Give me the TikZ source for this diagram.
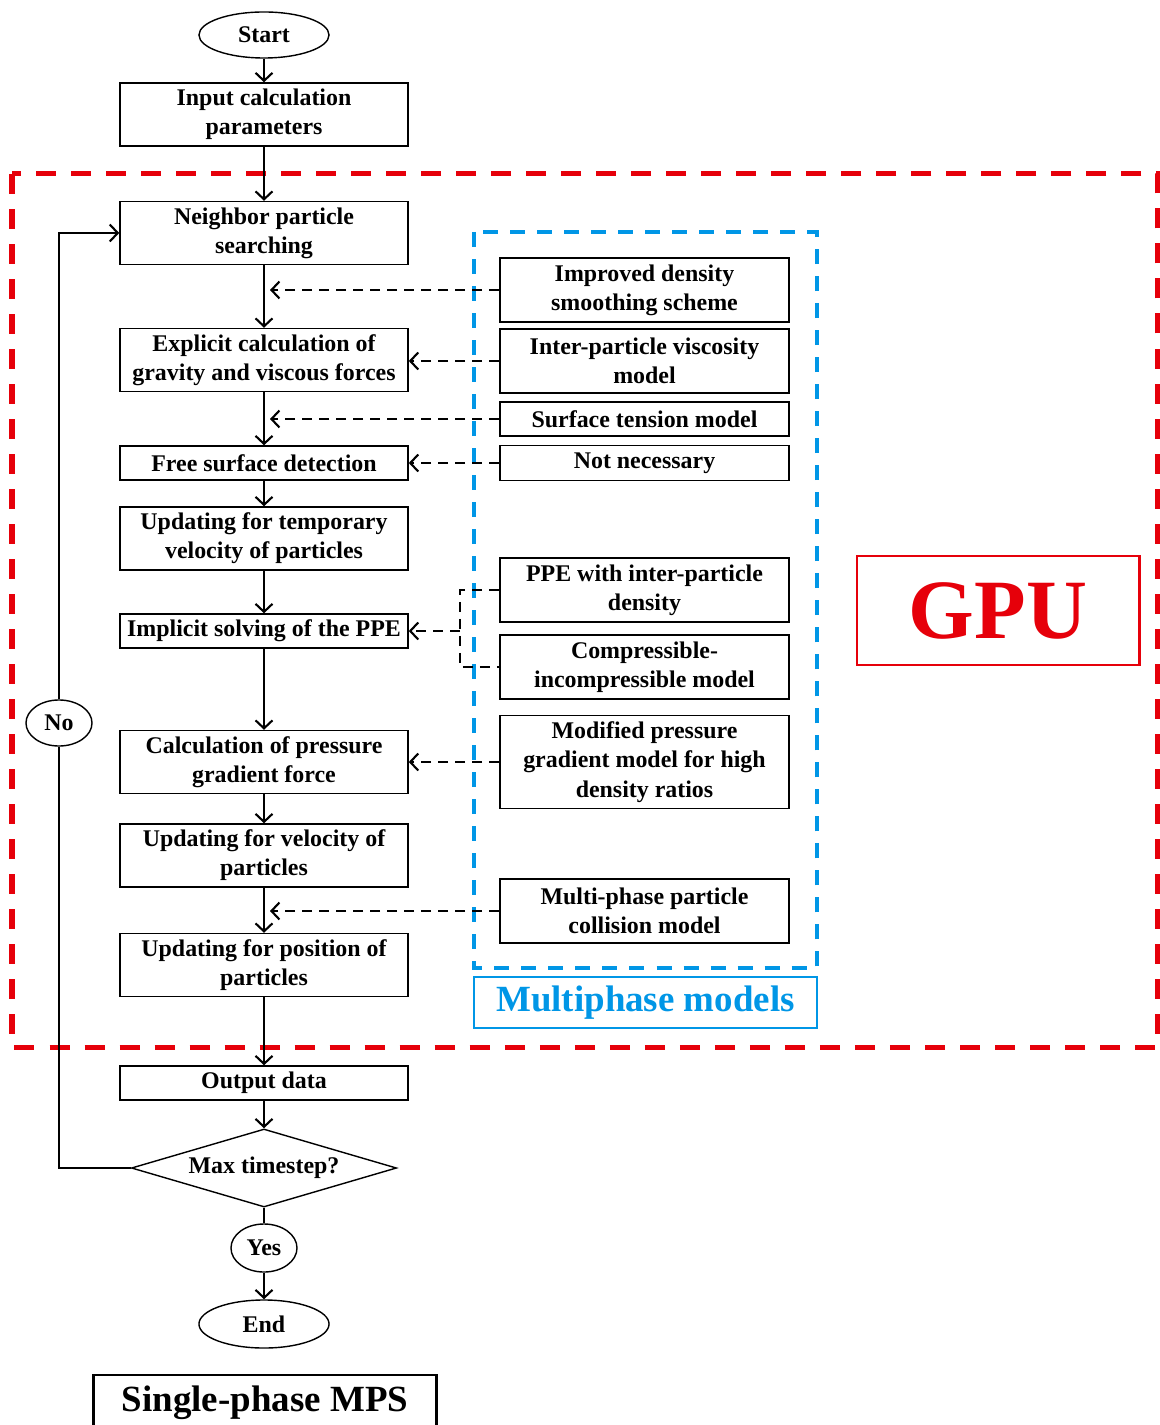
\documentclass[tikz,border=0pt]{standalone}
\usepackage{fontspec}
\setmainfont{Liberation Serif}
\usetikzlibrary{shapes.geometric,arrows.meta}
\definecolor{gpured}{RGB}{230,0,10}
\definecolor{mpblue}{RGB}{0,150,230}
\tikzset{
  txt/.style={font=\fontsize{6.8}{8.3}\selectfont\bfseries},
  box/.style={draw,txt,minimum width=2.88cm,minimum height=0.63cm,inner sep=0pt,align=center},
  lbox/.style={box,minimum height=0.34cm},
  model/.style={box,minimum width=2.89cm,minimum height=0.64cm},
  term/.style={draw,txt,ellipse,minimum width=1.3cm,minimum height=0.46cm,inner sep=0pt},
  flow/.style={->,line width=0.6pt},
  feed/.style={line width=0.6pt,dash pattern=on 0.1cm off 0.07cm},
  title/.style={font=\fontsize{10.5}{12}\selectfont\bfseries,inner sep=0pt},
}
\begin{document}
\begin{tikzpicture}[x=0.01cm,y=-0.01cm,>={Straight Barb[length=0.08cm,width=0.17cm]}]
\useasboundingbox (0,0) rectangle (1159,1425);
\draw[gpured,line width=0.05cm,dash pattern=on 0.2cm off 0.15cm] (12,174) rectangle (1157,1047);
\draw[mpblue,line width=0.04cm,dash pattern=on 0.15cm off 0.12cm] (474,232) rectangle (817,968);

\node[term] (S) at (264,35) {Start};
\node[box] (In) at (264,114.5) {Input calculation\\parameters};
\node[box] (N) at (264,233) {Neighbor particle\\searching};
\node[box] (E) at (264,360) {Explicit calculation of\\gravity and viscous forces};
\node[lbox] (F) at (264,463) {Free surface detection};
\node[box] (T) at (264,538.5) {Updating for temporary\\velocity of particles};
\node[lbox] (I) at (264,631) {Implicit solving of the PPE};
\node[box] (Cp) at (264,762) {Calculation of pressure\\gradient force};
\node[box] (V) at (264,855.5) {Updating for velocity of\\particles};
\node[box] (P) at (264,965) {Updating for position of\\particles};
\node[lbox] (O) at (264,1083) {Output data};
\node[draw,diamond,txt,aspect=3.4,minimum width=2.65cm,minimum height=0.78cm,inner sep=0pt] (D) at (264,1168) {Max timestep?};
\node[term,minimum width=0.66cm,minimum height=0.48cm] (Y) at (264,1248) {Yes};
\node[term,minimum height=0.48cm] (End) at (264,1324) {End};
\node[term,minimum width=0.66cm] (No) at (59,723) {No};

\node[model] (M1) at (644.5,290) {Improved density\\smoothing scheme};
\node[model] (M2) at (644.5,361) {Inter-particle viscosity\\model};
\node[model,minimum height=0.34cm] (M3) at (644.5,419) {Surface tension model};
\node[model,minimum height=0.35cm] (M4) at (644.5,463) {Not necessary};
\node[model] (M5) at (644.5,590) {PPE with inter-particle\\density};
\node[model] (M6) at (644.5,667) {Compressible-\\incompressible model};
\node[model,minimum height=0.93cm] (M7) at (644.5,762) {Modified pressure\\gradient model for high\\density ratios};
\node[model] (M8) at (644.5,911) {Multi-phase particle\\collision model};

\node[draw=gpured,line width=0.8pt,text=gpured,minimum width=2.82cm,minimum height=1.09cm,font=\fontsize{24}{24}\selectfont\bfseries] (gpu) at (998,610.5) {GPU};
\node[draw=mpblue,line width=0.7pt,text=mpblue,title,minimum width=3.43cm,minimum height=0.51cm] (mp) at (645.5,1002.5) {Multiphase models};
\node[draw,line width=0.8pt,title,minimum width=3.42cm,minimum height=0.56cm] (sp) at (265,1403) {Single-phase MPS};

\coordinate (c1) at (270,290);
\coordinate (c2) at (270,419);
\coordinate (c3) at (270,911);
\coordinate (j) at (460,631);

\foreach \a/\b in {S/In,In/N,N/E,E/F,F/T,T/I,I/Cp,Cp/V,V/P,P/O,O/D,Y/End} {
  \draw[flow] (\a) -- (\b);
}
\draw[line width=0.6pt] (D) -- (Y);
\draw[line width=0.6pt] (D.west) -| (No.south);
\draw[flow] (No.north) |- (N.west);

\foreach \a/\b in {M1/c1,M2/E.east,M3/c2,M4/F.east,M7/Cp.east,M8/c3} {
  \draw[feed,->] (\a.west) -- (\a.west -| \b);
}
\draw[feed] (M5.west) -| (j) |- (M6.west);
\draw[feed,->] (j) -- (j -| I.east);
\end{tikzpicture}
\end{document}
